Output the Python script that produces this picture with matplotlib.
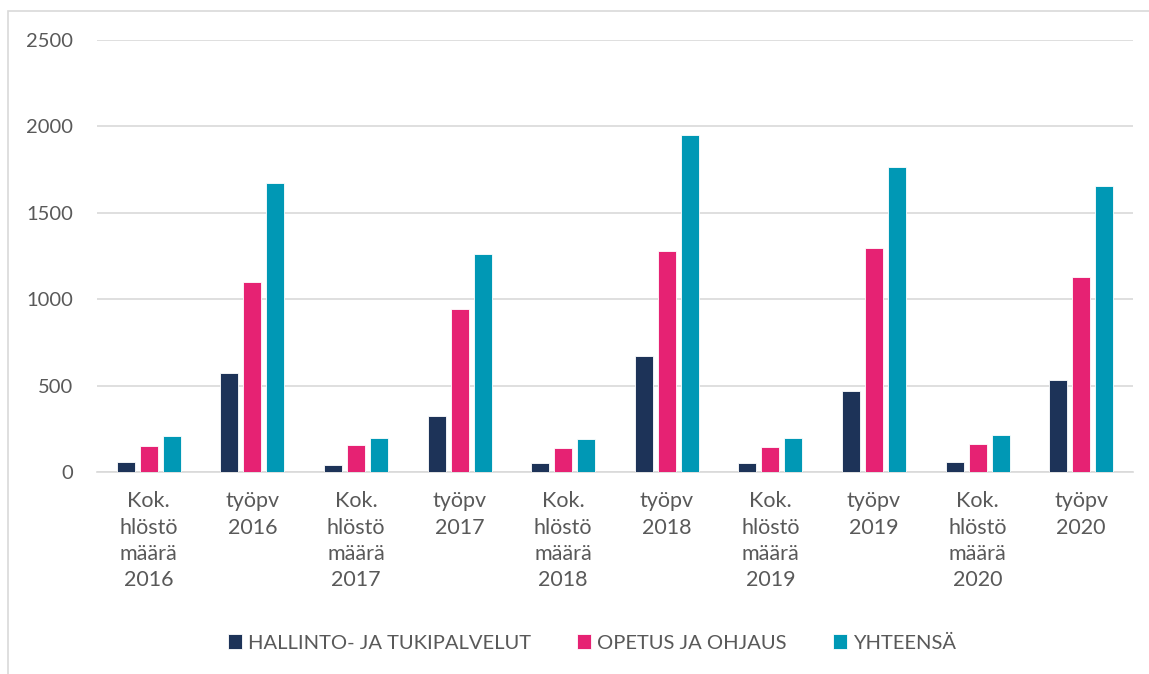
import matplotlib.pyplot as plt
import numpy as np
from matplotlib.patches import Rectangle

# ============ Data ============
categories = ['Kok.\nhlöstö\nmäärä\n2016', 'työpv\n2016',
              'Kok.\nhlöstö\nmäärä\n2017', 'työpv\n2017',
              'Kok.\nhlöstö\nmäärä\n2018', 'työpv\n2018',
              'Kok.\nhlöstö\nmäärä\n2019', 'työpv\n2019',
              'Kok.\nhlöstö\nmäärä\n2020', 'työpv\n2020']
hallinto = [58, 573, 40, 324, 52, 671, 52, 469, 58, 532]
opetus = [150, 1100, 156, 943, 139, 1279, 145, 1296, 162, 1128]
yhteensa = [208, 1672, 197, 1262, 191, 1950, 197, 1765, 214, 1655]
series_names = ['HALLINTO- JA TUKIPALVELUT', 'OPETUS JA OHJAUS', 'YHTEENSÄ']
colors = ['#1d3358', '#e62273', '#0098b5']

plt.rcParams['font.family'] = ['Lato', 'DejaVu Sans']
text_color = '#595959'

fig = plt.figure(figsize=(11.49, 6.74), dpi=100)
ax = fig.add_axes([97 / 1149, 1 - 472 / 674, 1036 / 1149, 432 / 674])

x = np.arange(len(categories))
width = 0.175
step = 0.222
for i, vals in enumerate([hallinto, opetus, yhteensa]):
    ax.bar(x + (i - 1) * step, vals, width, color=colors[i],
           edgecolor='white', linewidth=0.6, label=series_names[i], zorder=3)

ax.set_xlim(-0.5, len(categories) - 0.5)
ax.set_ylim(0, 2500)
ax.set_yticks(range(0, 2501, 500))
ax.set_xticks(x)
ax.set_xticklabels(categories, linespacing=1.38)
ax.tick_params(axis='both', length=0, colors=text_color)
ax.tick_params(axis='x', pad=14, labelsize=15.5)
ax.tick_params(axis='y', pad=17, labelsize=14.5)

ax.grid(axis='y', color='#d9d9d9', linewidth=1.2, zorder=0)
for side in ['top', 'right', 'left']:
    ax.spines[side].set_visible(False)
ax.spines['bottom'].set_color('#d9d9d9')
ax.spines['bottom'].set_linewidth(1.2)

# outer chart border (only top and left visible in the crop)
fig.patches.append(Rectangle((8 / 1149, -0.1), 1.2, 1 - 11 / 674 + 0.1,
                             transform=fig.transFigure, fill=False,
                             edgecolor='#d9d9d9', linewidth=1.2))

leg = fig.legend(loc='center', bbox_to_anchor=(592 / 1149, 1 - 643 / 674),
                 ncol=3, frameon=False, fontsize=14.5, handlelength=0.7,
                 handleheight=0.7, handletextpad=0.3, columnspacing=2.3)
for t in leg.get_texts():
    t.set_color(text_color)

fig.savefig('out.png', dpi=100)
